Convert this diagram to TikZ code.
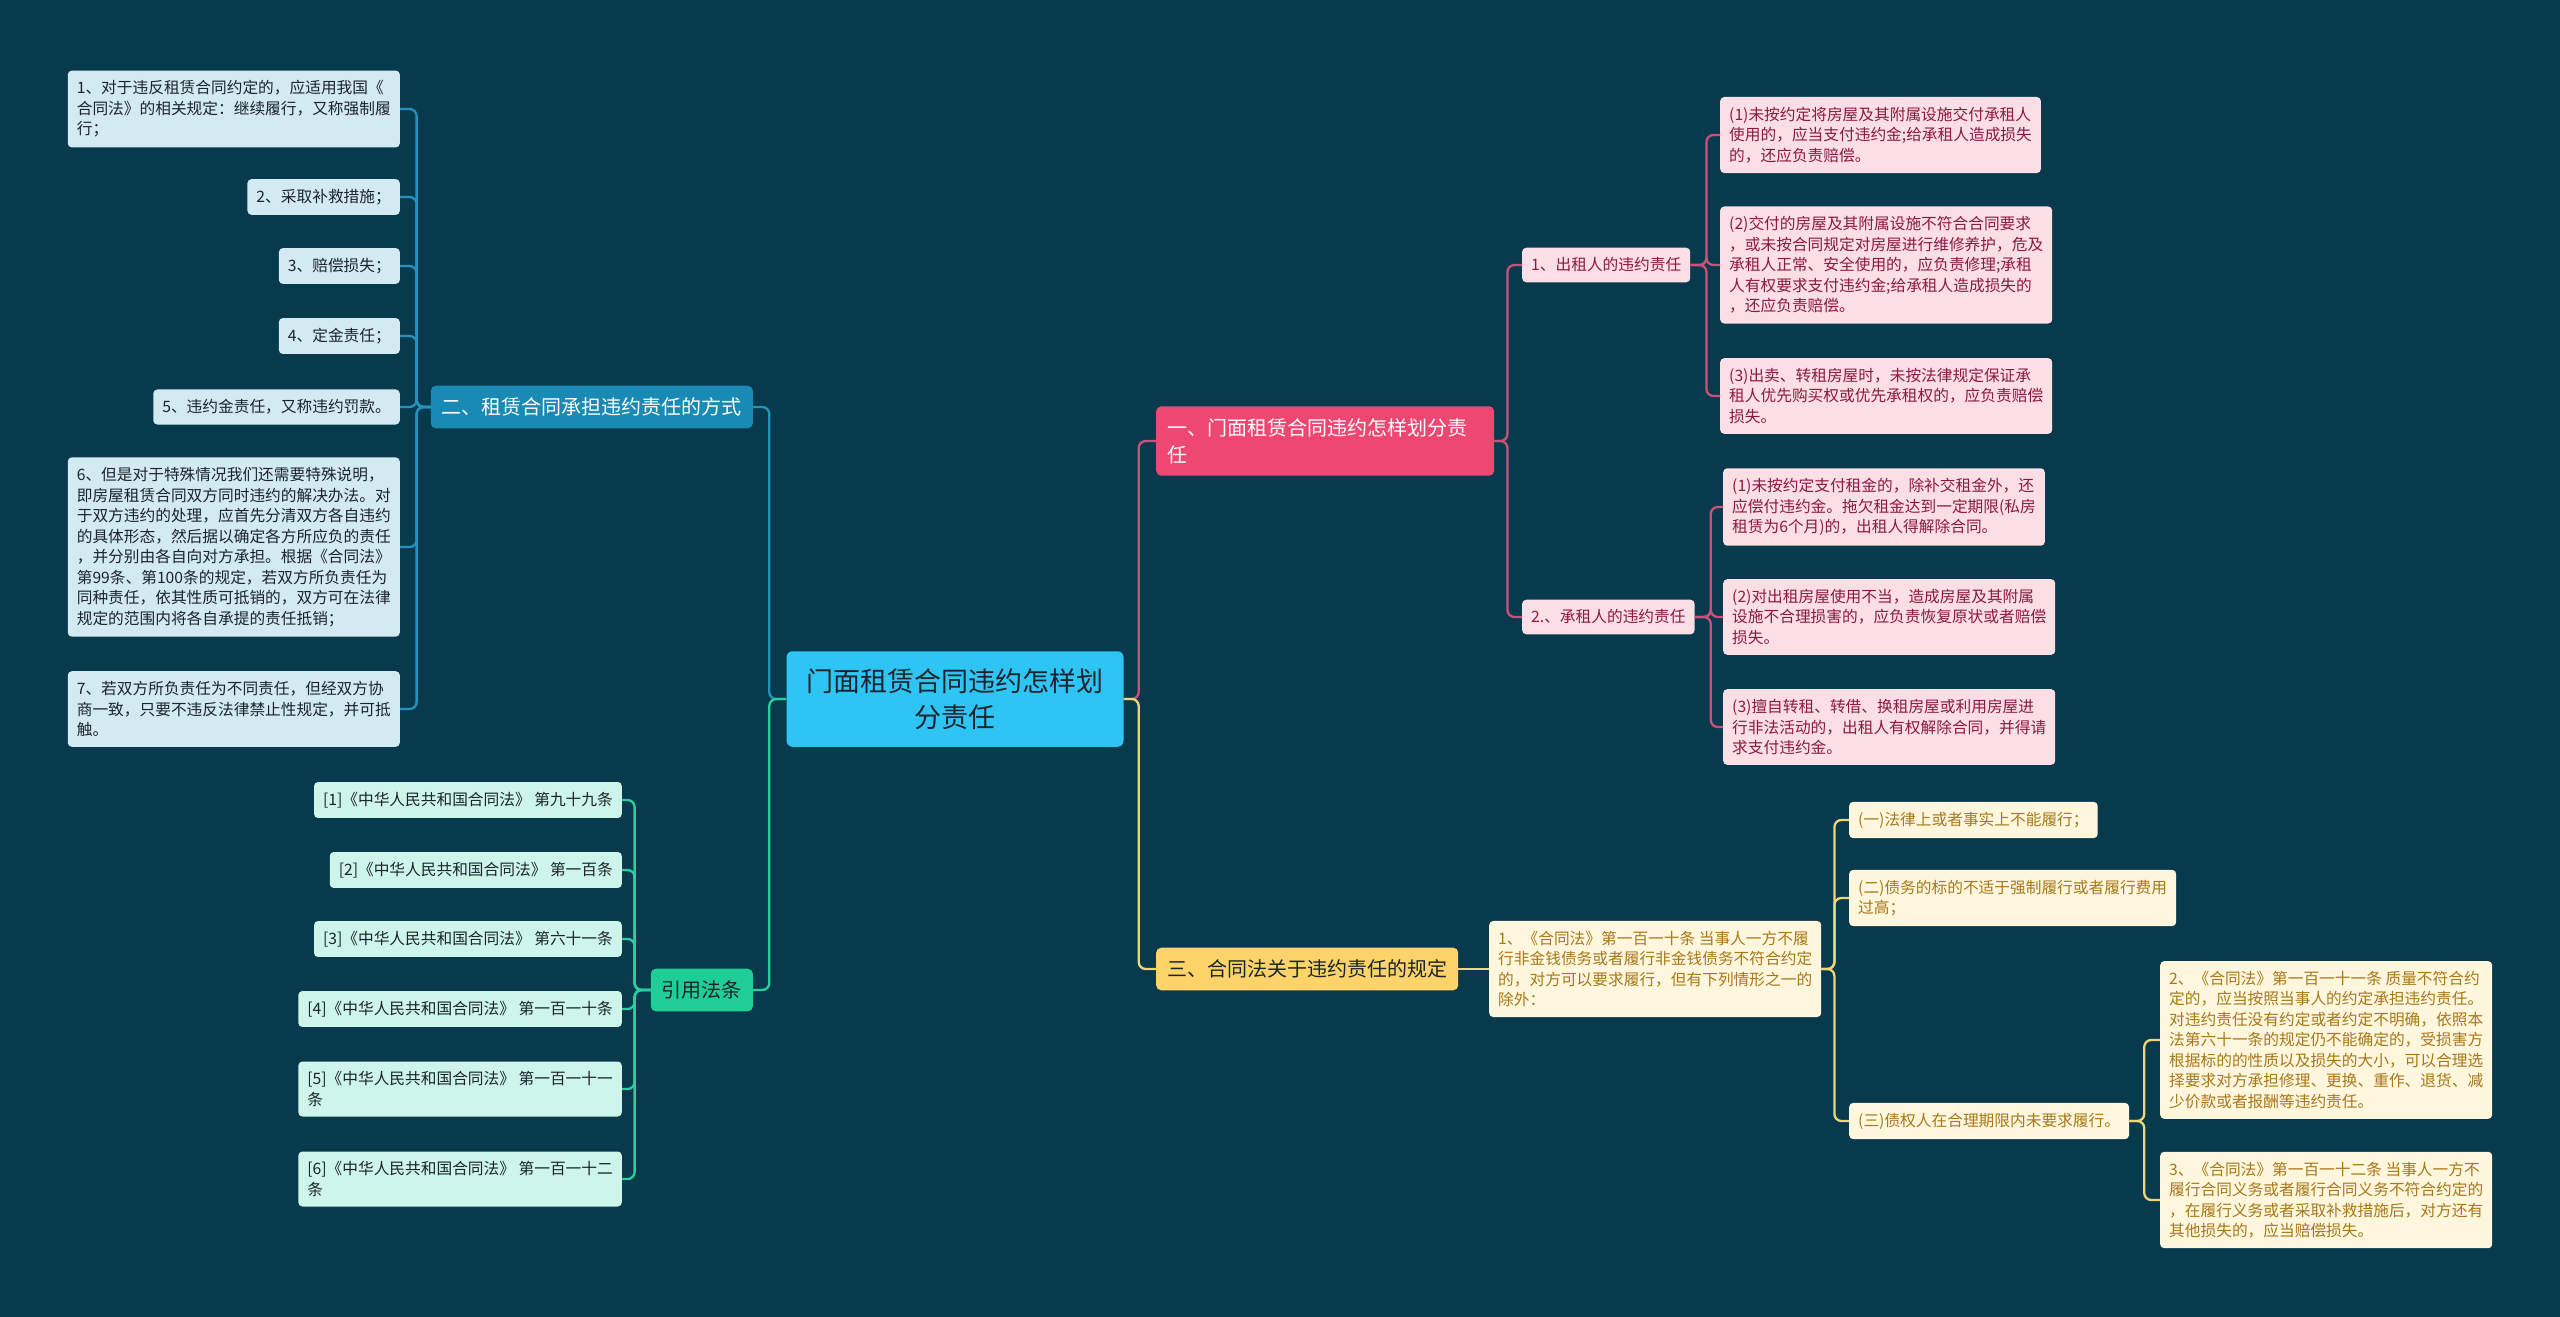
\documentclass[tikz,border=0pt]{standalone}
\usepackage{fontspec}
\setmainfont{Noto Sans CJK SC}
\usetikzlibrary{calc}
\definecolor{bg}{RGB}{7,58,77}
\definecolor{rootfill}{RGB}{46,196,244}
\definecolor{darkink}{RGB}{26,36,44}
\definecolor{bluefill}{RGB}{24,138,180}
\definecolor{blueline}{RGB}{36,146,190}
\definecolor{bluekid}{RGB}{212,234,242}
\definecolor{greenfill}{RGB}{30,206,150}
\definecolor{greenline}{RGB}{40,208,158}
\definecolor{greenkid}{RGB}{206,245,234}
\definecolor{pinkfill}{RGB}{238,72,114}
\definecolor{pinkline}{RGB}{206,80,122}
\definecolor{pinkkid}{RGB}{252,222,229}
\definecolor{pinkink}{RGB}{140,26,60}
\definecolor{yelfill}{RGB}{254,211,106}
\definecolor{yelline}{RGB}{240,212,120}
\definecolor{yelkid}{RGB}{254,246,221}
\definecolor{yelink}{RGB}{168,120,26}
\begin{document}
\begin{tikzpicture}[x=1pt,y=-1pt,
  kid/.style={rounded corners=4pt,inner xsep=9pt,inner ysep=10pt,align=left,font=\fontsize{15.7}{20.5}\selectfont},
  lvbox/.style={rounded corners=5pt,inner xsep=11pt,inner ysep=12pt,align=left,font=\fontsize{20}{27}\selectfont},
  rootbox/.style={rounded corners=6pt,fill=rootfill,text=darkink,inner xsep=20pt,inner ysep=17pt,align=center,font=\fontsize{27}{36.5}\selectfont},
  bkid/.style={kid,fill=bluekid,text=darkink},
  gkid/.style={kid,fill=greenkid,text=darkink},
  pkid/.style={kid,fill=pinkkid,text=pinkink},
  ykid/.style={kid,fill=yelkid,text=yelink},
  link/.style={line width=2.3pt,rounded corners=7pt},
  bl/.style={link,draw=blueline},
  gl/.style={link,draw=greenline},
  pl/.style={link,draw=pinkline},
  yl/.style={link,draw=yelline}]
\fill[bg] (0,0) rectangle (2560,1317);
\node[rootbox] (root) at (955,699) {门面租赁合同违约怎样划\\分责任};
\node[lvbox,fill=bluefill,text=white,anchor=east] (two) at (753,407) {二、租赁合同承担违约责任的方式};
\node[lvbox,fill=greenfill,text=darkink,anchor=east] (cite) at (753,990) {引用法条};
\node[lvbox,fill=pinkfill,text=white,anchor=west,text width=316pt] (one) at (1156,441) {一、门面租赁合同违约怎样划分责\\任};
\node[lvbox,fill=yelfill,text=darkink,anchor=west] (three) at (1156,969) {三、合同法关于违约责任的规定};
\node[bkid,anchor=east] (b1) at (400,109) {1、对于违反租赁合同约定的，应适用我国《\\合同法》的相关规定：继续履行，又称强制履\\行；};
\node[bkid,anchor=east] (b2) at (400,197) {2、采取补救措施；};
\node[bkid,anchor=east] (b3) at (400,266) {3、赔偿损失；};
\node[bkid,anchor=east] (b4) at (400,336) {4、定金责任；};
\node[bkid,anchor=east] (b5) at (400,407) {5、违约金责任，又称违约罚款。};
\node[bkid,anchor=east] (b6) at (400,547) {6、但是对于特殊情况我们还需要特殊说明，\\即房屋租赁合同双方同时违约的解决办法。对\\于双方违约的处理，应首先分清双方各自违约\\的具体形态，然后据以确定各方所应负的责任\\，并分别由各自向对方承担。根据《合同法》\\第99条、第100条的规定，若双方所负责任为\\同种责任，依其性质可抵销的，双方可在法律\\规定的范围内将各自承提的责任抵销；};
\node[bkid,anchor=east] (b7) at (400,709) {7、若双方所负责任为不同责任，但经双方协\\商一致，只要不违反法律禁止性规定，并可抵\\触。};
\node[gkid,anchor=east] (c1) at (622,800) {[1]《中华人民共和国合同法》 第九十九条};
\node[gkid,anchor=east] (c2) at (622,870) {[2]《中华人民共和国合同法》 第一百条};
\node[gkid,anchor=east] (c3) at (622,939) {[3]《中华人民共和国合同法》 第六十一条};
\node[gkid,anchor=east] (c4) at (622,1009) {[4]《中华人民共和国合同法》 第一百一十条};
\node[gkid,anchor=east] (c5) at (622,1089) {[5]《中华人民共和国合同法》 第一百一十一\\条};
\node[gkid,anchor=east] (c6) at (622,1179) {[6]《中华人民共和国合同法》 第一百一十二\\条};
\node[pkid,anchor=west] (p1) at (1522,265) {1、出租人的违约责任};
\node[pkid,anchor=west] (p2) at (1522,617) {2.、承租人的违约责任};
\node[pkid,anchor=west] (pa1) at (1720,135) {(1)未按约定将房屋及其附属设施交付承租人\\使用的，应当支付违约金;给承租人造成损失\\的，还应负责赔偿。};
\node[pkid,anchor=west] (pa2) at (1720,265) {(2)交付的房屋及其附属设施不符合合同要求\\，或未按合同规定对房屋进行维修养护，危及\\承租人正常、安全使用的，应负责修理;承租\\人有权要求支付违约金;给承租人造成损失的\\，还应负责赔偿。};
\node[pkid,anchor=west] (pa3) at (1720,396) {(3)出卖、转租房屋时，未按法律规定保证承\\租人优先购买权或优先承租权的，应负责赔偿\\损失。};
\node[pkid,anchor=west] (pb1) at (1723,507) {(1)未按约定支付租金的，除补交租金外，还\\应偿付违约金。拖欠租金达到一定期限(私房\\租赁为6个月)的，出租人得解除合同。};
\node[pkid,anchor=west] (pb2) at (1723,617) {(2)对出租房屋使用不当，造成房屋及其附属\\设施不合理损害的，应负责恢复原状或者赔偿\\损失。};
\node[pkid,anchor=west] (pb3) at (1723,727) {(3)擅自转租、转借、换租房屋或利用房屋进\\行非法活动的，出租人有权解除合同，并得请\\求支付违约金。};
\node[ykid,anchor=west] (y1) at (1489,969) {1、《合同法》第一百一十条 当事人一方不履\\行非金钱债务或者履行非金钱债务不符合约定\\的，对方可以要求履行，但有下列情形之一的\\除外：};
\node[ykid,anchor=west] (ya1) at (1849,820) {(一)法律上或者事实上不能履行；};
\node[ykid,anchor=west] (ya2) at (1849,898) {(二)债务的标的不适于强制履行或者履行费用\\过高；};
\node[ykid,anchor=west] (ya3) at (1849,1121) {(三)债权人在合理期限内未要求履行。};
\node[ykid,anchor=west] (yb2) at (2160,1040) {2、《合同法》第一百一十一条 质量不符合约\\定的，应当按照当事人的约定承担违约责任。\\对违约责任没有约定或者约定不明确，依照本\\法第六十一条的规定仍不能确定的，受损害方\\根据标的的性质以及损失的大小，可以合理选\\择要求对方承担修理、更换、重作、退货、减\\少价款或者报酬等违约责任。};
\node[ykid,anchor=west] (yb3) at (2160,1200) {3、《合同法》第一百一十二条 当事人一方不\\履行合同义务或者履行合同义务不符合约定的\\，在履行义务或者采取补救措施后，对方还有\\其他损失的，应当赔偿损失。};
\draw[bl] (root.west) -- ++(-17,0) |- (two.east);
\foreach \k in {1,...,7} \draw[bl] (two.west) -- ++(-14,0) |- (b\k.east);
\draw[gl] (root.west) -- ++(-17,0) |- (cite.east);
\foreach \k in {1,...,6} \draw[gl] (cite.west) -- ++(-16,0) |- (c\k.east);
\draw[pl] (root.east) -- ++(15,0) |- (one.west);
\draw[pl] (one.east) -- ++(13,0) |- (p1.west);
\draw[pl] (one.east) -- ++(13,0) |- (p2.west);
\foreach \k in {1,2,3} \draw[pl] (p1.east) -- ++(16,0) |- (pa\k.west);
\foreach \k in {1,2,3} \draw[pl] (p2.east) -- ++(16,0) |- (pb\k.west);
\draw[yl] (root.east) -- ++(15,0) |- (three.west);
\draw[yl] (three) -- (y1);
\foreach \k in {1,2,3} \draw[yl] (y1.east) -- ++(13,0) |- (ya\k.west);
\foreach \k in {2,3} \draw[yl] (ya3.east) -- ++(15,0) |- (yb\k.west);
\end{tikzpicture}
\end{document}
